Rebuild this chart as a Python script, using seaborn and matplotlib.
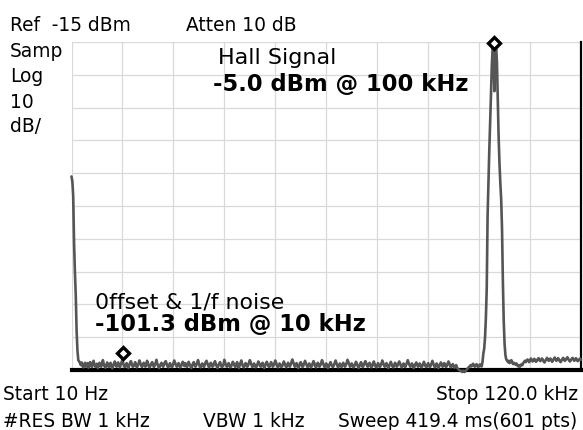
import numpy as np
import pandas as pd
import matplotlib
matplotlib.use("Agg")
import matplotlib.pyplot as plt
import seaborn as sns

# ---- sweep settings (from the annotations) ----
start_khz = 0.01
stop_khz = 120.0
n_pts = 601
ref_dbm = -15
db_per_div = 10

# ---- trace values in dBm ----
start_db = [-56.0, -57.5, -62.0, -76.0, -85.0, -92.0, -103.0, -109.0, -112.0]

floor1_db = [
    -112.4, -112.9, -113.5, -112.7, -113.8, -114.2, -113.3, -112.8, -114.0, -113.6, -112.9, -114.3, -113.7, -112.6, -113.4, -114.1, -113.0, -112.2, -113.3, -114.0, -113.8, -113.1, -114.4, -113.5, -112.8,
    -113.7, -114.0, -112.9, -112.0, -113.2, -113.9, -114.3, -113.6, -112.7, -113.3, -114.1, -113.4, -112.8, -113.9, -114.5, -113.7, -113.0, -112.4, -113.5, -114.0, -113.1, -112.7, -113.6, -114.2, -113.3,
    -112.6, -111.8, -113.0, -113.9, -114.1, -113.4, -112.9, -113.8, -114.4, -113.6, -112.8, -112.3, -113.2, -114.0, -113.9, -113.3, -112.6, -113.5, -114.2, -113.7, -113.0, -112.1, -112.9, -113.6, -114.1,
    -113.5, -112.8, -113.3, -114.0, -113.2, -112.2, -112.9, -113.9, -114.2, -113.7, -113.0, -112.6, -113.4, -114.1, -113.6, -112.9, -111.9, -113.0, -113.8, -114.4, -113.9, -113.2, -112.8, -113.6, -114.0,
    -113.3, -112.6, -112.3, -113.1, -113.9, -114.2, -113.5, -112.9, -113.6, -114.1, -113.8, -113.0, -112.1, -112.8, -113.5, -114.0, -113.6, -112.9, -113.3, -114.2, -113.9, -113.2, -112.5, -113.0, -113.8,
    -112.9, -113.6, -114.1, -113.3, -112.5, -113.2, -113.8, -114.4, -113.9, -113.0, -112.6, -113.5, -114.0, -113.5, -112.8, -112.0, -112.9, -113.9, -114.2, -113.6, -113.0, -113.7, -114.1, -113.3, -112.6,
    -112.2, -113.0, -113.7, -114.2, -113.5, -112.8, -113.3, -114.0, -113.7, -112.9, -112.3, -113.2, -113.9, -114.4, -113.6, -113.0, -112.6, -113.5, -114.1, -113.9, -113.2, -111.9, -112.8, -113.6, -114.0,
    -113.7, -112.9, -113.5, -114.2, -113.9, -113.2, -112.5, -113.0, -113.7, -114.1, -113.3, -112.6, -113.6, -114.4, -113.7, -112.8, -112.1, -113.2, -113.9, -114.2, -113.5, -112.9, -113.3, -114.0, -113.6,
    -112.8, -112.0, -112.6, -113.5, -114.1, -113.7, -113.0, -113.6, -114.2, -113.9, -113.2, -112.4, -112.9, -113.7, -114.0, -113.3, -112.8, -113.5, -114.4, -113.7, -113.0, -112.5, -113.2, -113.9, -114.1,
    -113.3, -112.6, -113.2, -114.0, -113.6, -112.9, -112.1, -112.8, -113.6, -114.2, -113.7, -113.0, -113.5, -114.1, -113.9, -113.2, -112.4, -113.0, -113.7, -114.2, -113.5, -112.8, -113.3, -114.0, -113.5,
    -112.7, -111.8, -112.5, -113.3, -114.0, -113.6, -112.9, -113.7, -114.4, -113.9, -113.0, -112.6, -113.3, -114.1, -113.7, -112.9, -112.2, -112.9, -113.6, -114.1, -113.6, -113.0, -113.5, -114.2, -113.7,
    -113.0, -112.3, -112.9, -113.9, -114.2, -113.5, -112.8, -113.3, -114.0, -113.6, -112.9, -112.0, -112.7, -113.5, -114.1, -113.7, -113.0, -113.6, -114.4, -113.9, -113.2, -112.6, -113.2, -113.9, -114.1,
    -113.5, -112.8, -112.1, -112.9, -113.7, -114.2, -113.6, -113.0, -113.7, -114.1, -113.5, -112.8, -113.3, -114.0, -113.6, -112.9, -111.9, -112.5, -113.3, -114.0, -113.7, -113.0, -113.6, -114.2, -113.9,
    -113.2, -112.5, -113.0, -113.7, -114.4, -113.9, -113.2, -112.6, -113.5, -114.1, -113.6, -112.9, -112.3, -112.9, -113.7, -114.0, -113.3, -112.8, -113.5, -114.2, -113.9, -113.0, -112.4, -113.2, -113.9,
    -114.2, -113.6, -112.9, -113.5, -114.1, -113.7, -113.0, -112.1, -112.8, -113.6, -114.0, -113.5, -112.9, -113.6, -114.4, -113.9, -113.2, -112.5, -113.2, -113.9, -114.2, -113.5, -112.8, -113.3, -114.0,
    -113.6, -112.9, -112.4, -113.0, -113.9, -114.2, -113.7, -113.0, -113.6, -114.1, -113.5, -112.7, -112.0, -112.8, -113.5, -114.0, -113.7, -113.0, -113.7, -114.4, -113.9, -113.2, -112.7, -113.3, -114.0,
    -113.7, -113.0, -113.6, -114.2, -113.9, -113.2, -112.5, -113.2, -113.9, -114.1, -113.5, -112.9, -113.5, -114.1, -113.7, -113.0, -112.2, -113.0, -113.7, -114.2, -113.6, -113.0, -113.7, -114.4, -113.9,
    -113.2, -112.7, -113.3, -114.0, -113.6, -112.9, -113.5, -114.1, -113.7, -113.0, -112.4, -113.0, -113.9, -114.2, -113.6, -113.2, -113.7, -114.3, -114.0, -113.5, -114.3, -114.6, -114.9, -115.1, -115.2,
    -115.3, -115.6, -115.2, -115.5, -115.6, -115.3, -115.0, -114.7, -114.4, -114.1, -113.9, -113.5, -113.9, -113.4, -113.1, -113.7, -114.0, -113.6, -113.2, -113.8, -114.1, -113.7, -113.3, -113.8, -113.9,
]

peak_db = [
    -112.5, -110.0, -108.5, -105.0, -99.0, -90.0, -68.0, -58.0, -48.0, -40.0,
    -31.0, -22.0, -16.5, -17.5, -30.0, -17.0, -16.0, -21.0, -33.0, -44.0,
    -52.0, -58.0, -63.0, -72.0, -88.0, -100.0, -107.0, -110.5, -111.8,
]

floor2_db = [
    -112.1, -112.6, -112.2, -112.9, -112.5, -112.0, -112.7, -113.2, -112.8, -113.1, -113.4, -113.0, -113.6, -113.9, -113.5, -114.0, -113.7, -113.2, -113.5, -112.9, -112.5, -112.2, -112.6, -112.1, -111.8,
    -112.2, -112.6, -112.0, -111.5, -111.9, -112.4, -112.1, -111.6, -112.0, -112.5, -112.2, -111.7, -111.4, -111.9, -112.3, -112.0, -111.5, -111.8, -112.4, -112.7, -112.2, -111.8, -111.3, -111.7, -112.2,
    -111.9, -111.5, -112.0, -112.5, -112.1, -111.6, -111.2, -111.7, -112.2, -111.9, -111.4, -111.8, -112.3, -112.6, -112.1, -111.7, -111.3, -111.8, -112.2, -111.9, -111.5, -111.1, -111.6, -112.1, -112.4,
    -112.0, -111.6, -111.3, -111.7, -112.2, -111.9, -111.4, -111.8, -112.3, -112.1, -111.7, -111.5, -111.9,
]

# ---- markers (frequency kHz, displayed level dBm) ----
marker_khz = [99.5, 12.05]
marker_db = [-15.3, -109.7]

# ---- texts ----
top_left = ["Ref  -15 dBm", "Atten 10 dB"]
side_labels = ["Samp", "Log", "10", "dB/"]
peak_title = "Hall Signal"
peak_value = "-5.0 dBm @ 100 kHz"
noise_title = "0ffset & 1/f noise"
noise_value = "-101.3 dBm @ 10 kHz"
bottom_left = ["Start 10 Hz", "#RES BW 1 kHz"]
bottom_mid = "VBW 1 kHz"
bottom_right = ["Stop 120.0 kHz", "Sweep 419.4 ms(601 pts)"]

# ---- build data ----
levels = start_db + floor1_db + peak_db + floor2_db
df = pd.DataFrame({"freq": np.linspace(start_khz, stop_khz, n_pts),
                   "level": levels})

sns.set_style("white")
plt.rcParams["font.family"] = ["DejaVu Sans"]

W, H = 583, 430
fig = plt.figure(figsize=(W / 100, H / 100), dpi=100)
ax_l, ax_r, ax_t, ax_b = 71.5, 581.0, 42.0, 370.0
ax = fig.add_axes([ax_l / W, 1 - ax_b / H, (ax_r - ax_l) / W, (ax_b - ax_t) / H])

sns.lineplot(data=df, x="freq", y="level", ax=ax, color="#555555",
             linewidth=1.9, zorder=4, clip_on=False)
ax.plot(marker_khz, marker_db, linestyle="none", marker="D", markersize=6.2,
        markerfacecolor="white", markeredgecolor="black",
        markeredgewidth=2.4, clip_on=False, zorder=6)

ax.set_xlim(start_khz, stop_khz)
ax.set_ylim(ref_dbm - 10 * db_per_div, ref_dbm)
ax.set_xticks(np.linspace(start_khz, stop_khz, 11))
ax.set_yticks(np.arange(ref_dbm - 10 * db_per_div, ref_dbm + 1, db_per_div))
ax.grid(True, color="#d9d9d9", linewidth=0.9)
ax.tick_params(length=0, labelbottom=False, labelleft=False)
ax.set_xlabel("")
ax.set_ylabel("")
for s in ["left", "top"]:
    ax.spines[s].set_visible(False)
ax.spines["bottom"].set_color("black")
ax.spines["bottom"].set_linewidth(3.0)
ax.spines["bottom"].set_zorder(3)
ax.spines["right"].set_color("black")
ax.spines["right"].set_linewidth(1.6)
ax.set_axisbelow(True)


def put(x, y, s, size=13.4, weight="normal", ha="left"):
    fig.text(x / W, 1 - y / H, s, fontsize=size, fontweight=weight,
             ha=ha, va="baseline", color="black")


put(10, 31, top_left[0])
put(186, 31, top_left[1])
for lab, yb in zip(side_labels, [57, 82, 108, 132]):
    put(10, yb, lab)
put(218, 64, peak_title, size=16)
put(213, 91, peak_value, size=16.3, weight="bold")
put(95, 309, noise_title, size=15.8)
put(95, 331, noise_value, size=16.3, weight="bold")
put(3, 400, bottom_left[0])
put(3, 427, bottom_left[1])
put(203, 427, bottom_mid)
put(578, 400, bottom_right[0], ha="right")
put(577, 427, bottom_right[1], ha="right")

fig.savefig("out.png", dpi=100)
